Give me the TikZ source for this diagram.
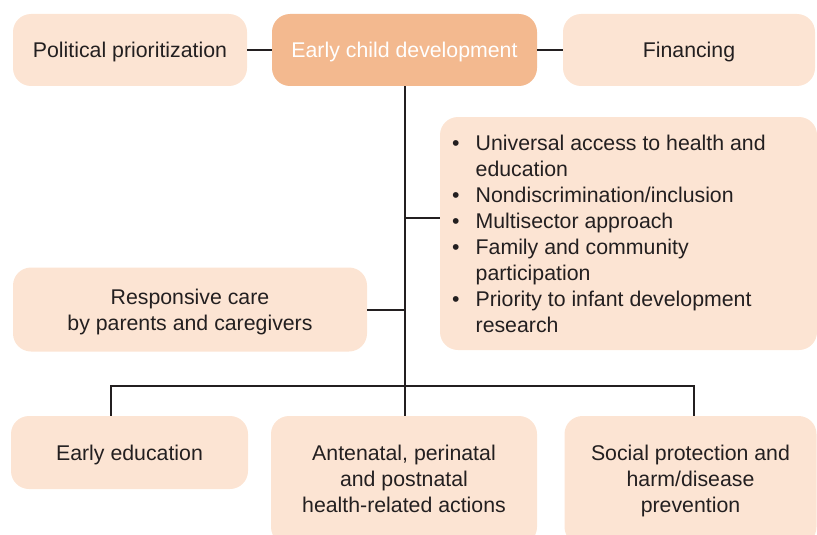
\documentclass[tikz,border=0pt]{standalone}
\usepackage{fontspec}
\setmainfont{Liberation Sans}
\definecolor{peach}{HTML}{FCE4D3}
\definecolor{orangec}{HTML}{F3B98F}
\definecolor{txt}{HTML}{231F20}
\begin{document}
\begin{tikzpicture}[x=1pt,y=-1pt,
  box/.style={fill=peach, draw=none, rounded corners=18pt, inner sep=0pt},
  lbl/.style={font=\fontsize{21.3}{26}\selectfont, text=txt, align=center},
  conn/.style={draw=txt, line width=1.5pt}]
\useasboundingbox (0,0) rectangle (817,535);
\clip (0,0) rectangle (817,535);
% top row
\node[box, lbl, text depth=0pt, minimum width=234pt, minimum height=72pt] (pol) at (130,50) {Political prioritization};
\node[box, lbl, text depth=0pt, fill=orangec, text=white, minimum width=265pt, minimum height=72pt] (ecd) at (404.5,50) {Early child development};
\node[box, lbl, text depth=0pt, minimum width=252pt, minimum height=72pt] (fin) at (689,50) {Financing};
% bullet box
\node[box, minimum width=377pt, minimum height=233pt] (bul) at (628.5,233.5) {};
\node[lbl, align=left, anchor=west, inner sep=0pt] (bultext) at (452,236.5) {%
  \begin{tabular}{@{}l@{\hspace{16pt}}l@{}}
  \textbullet & Universal access to health and\\
              & education\\
  \textbullet & Nondiscrimination/inclusion\\
  \textbullet & Multisector approach\\
  \textbullet & Family and community\\
              & participation\\
  \textbullet & Priority to infant development\\
              & research
  \end{tabular}};
% responsive care
\node[box, lbl, text depth=0pt, minimum width=354pt, minimum height=84pt] (resp) at (190,309.5) {Responsive care\\by parents and caregivers};
% bottom row
\node[box, lbl, text depth=0pt, minimum width=237pt, minimum height=73pt] (edu) at (129.5,452.5) {Early education};
\node[box, lbl, text depth=3pt, minimum width=266pt, minimum height=129pt] (ant) at (404,480.5) {Antenatal, perinatal\\and postnatal\\health-related actions};
\node[box, lbl, text depth=3pt, minimum width=252pt, minimum height=129pt] (soc) at (690.5,480.5) {Social protection and\\harm/disease\\prevention};
% connectors
\draw[conn] (pol.east) -- (ecd.west);
\draw[conn] (ecd.east) -- (fin.west);
\coordinate (j) at (405,386);
\coordinate (bj) at (405,218);
\coordinate (rj) at (405,310);
\coordinate (bl) at (111,386);
\coordinate (br) at (694,386);
\draw[conn] (ecd.south -| j) -- (j);
\draw[conn] (bj) -- (bj -| bul.west);
\draw[conn] (resp.east |- rj) -- (rj);
\draw[conn] (bl |- edu.north) -- (bl) -- (br) -- (br |- soc.north);
\draw[conn] (j) -- (j |- ant.north);
\end{tikzpicture}
\end{document}
